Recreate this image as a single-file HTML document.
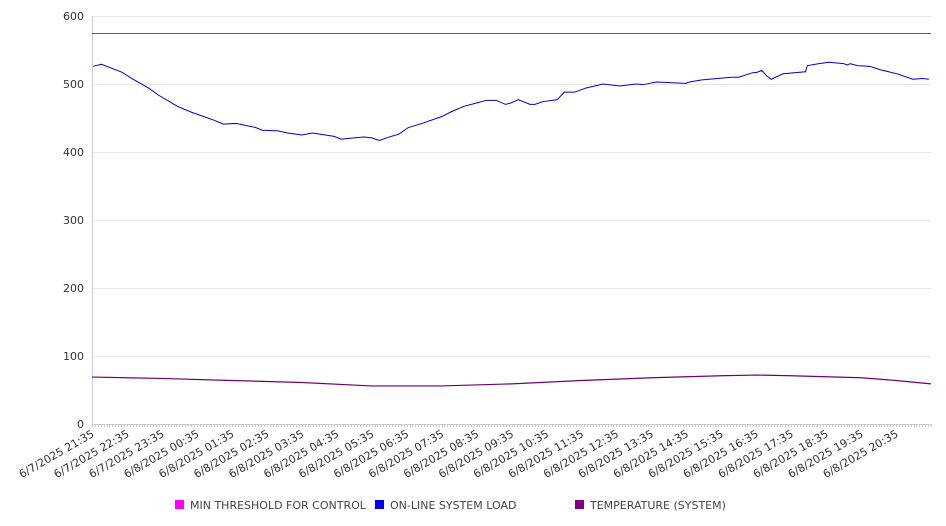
<!DOCTYPE html>
<html><head><meta charset="utf-8"><style>
body{margin:0;background:#fff;}
svg{display:block;font-family:"DejaVu Sans","Liberation Sans",sans-serif;}
</style></head><body>
<svg id="chart" width="946" height="526" viewBox="0 0 946 526" xmlns="http://www.w3.org/2000/svg">
<g id="grid"></g>
<g id="axes"></g>
<g id="series"></g>
<g id="legend"></g>
</svg>
<script>
const yTicks=[0,100,200,300,400,500,600];
const xLabels=["6/7/2025 21:35","6/7/2025 22:35","6/7/2025 23:35","6/8/2025 00:35","6/8/2025 01:35","6/8/2025 02:35","6/8/2025 03:35","6/8/2025 04:35","6/8/2025 05:35","6/8/2025 06:35","6/8/2025 07:35","6/8/2025 08:35","6/8/2025 09:35","6/8/2025 10:35","6/8/2025 11:35","6/8/2025 12:35","6/8/2025 13:35","6/8/2025 14:35","6/8/2025 15:35","6/8/2025 16:35","6/8/2025 17:35","6/8/2025 18:35","6/8/2025 19:35","6/8/2025 20:35"];
const thresholdValue=575;
const loadHours=[0.03,0.27,0.87,1.14,1.62,1.89,2.45,2.82,3.48,3.76,4.12,4.68,4.87,5.32,5.59,6.01,6.30,6.93,7.12,7.77,7.99,8.22,8.49,8.77,9.05,9.44,10.00,10.27,10.63,11.00,11.28,11.56,11.83,11.98,12.19,12.53,12.67,12.89,13.31,13.51,13.81,14.12,14.62,15.10,15.56,15.76,16.15,16.99,17.09,17.45,18.29,18.49,18.93,19.01,19.16,19.30,19.43,19.77,20.41,20.46,20.80,21.08,21.50,21.61,21.69,21.89,22.25,22.55,23.03,23.48,23.75,23.94];
const loadValues=[526,529,517,508,494,484,467,459,447,441,442,436,432,431,428,425,428,423,419,422,421,417,422,426,436,442,452,459,467,472,476,476,470,472,477,470,470,474,477,488,488,494,500,497,500,499,503,501,503,506,510,510,517,517,520,512,507,515,518,527,530,532,530,528,530,527,526,521,515,507,508,507];
const tempHours=[0,2,4,6,8,10,12,14,16,18,19,20,22,23,24];
const tempValues=[69,67,64,61,56,56,59,64,68,71,72,71,68,64,59];

const X0=92,X1=931,Y0=424,Y1=16,HOURS=24;
const xs=h=>X0+(X1-X0)*h/HOURS;
const ys=v=>Y0-(Y0-Y1)*v/600;
const NS="http://www.w3.org/2000/svg";
function mk(tag,attrs,parent){const e=document.createElementNS(NS,tag);for(const k in attrs)e.setAttribute(k,attrs[k]);parent.appendChild(e);return e;}
const grid=document.getElementById('grid'),axes=document.getElementById('axes'),series=document.getElementById('series'),legend=document.getElementById('legend');
yTicks.forEach(v=>{
  if(v>0){const l=mk('line',{x1:X0,x2:X1,y1:ys(v)+0.5,y2:ys(v)+0.5,stroke:'#e8e8e8','stroke-width':1},grid);
  
  }
  const t=mk('text',{x:84,y:ys(v)+4,'text-anchor':'end','font-size':11,fill:'#333'},axes);
  t.textContent=v;
  
  
});
const ya=mk('line',{x1:X0+0.5,x2:X0+0.5,y1:Y1,y2:Y0,stroke:'#ccc'},axes);


const xa=mk('line',{x1:X0,x2:X1,y1:Y0+0.5,y2:Y0+0.5,stroke:'#ccc'},axes);


let d='';for(let i=0;i<=HOURS*12;i++){const x=Math.round(xs(i/12))+0.5;d+='M'+x+' '+Y0+'v3';}
const tk=mk('path',{d:d,stroke:'#ccc','stroke-width':1},axes);


xLabels.forEach((s,i)=>{
  const x=xs(i)+3,y=Y0+12;
  const t=mk('text',{x:x,y:y,'text-anchor':'end','font-size':11,fill:'#333',transform:'rotate(-30 '+x+' '+y+')'},axes);
  t.textContent=s;
  
  
});
const th=mk('line',{x1:X0,x2:X1,y1:ys(thresholdValue)+0.5,y2:ys(thresholdValue)+0.5,stroke:'#e000e0','stroke-width':1},series);


const lp=mk('polyline',{points:loadHours.map((h,i)=>xs(h)+','+ys(loadValues[i])).join(' '),fill:'none',stroke:'#0000d8','stroke-width':1},series);


const tp=mk('polyline',{points:tempHours.map((h,i)=>xs(h)+','+ys(tempValues[i])).join(' '),fill:'none',stroke:'#700070','stroke-width':1.2},series);


const leg=[["MIN THRESHOLD FOR CONTROL","#ff00ff",175],["ON-LINE SYSTEM LOAD","#0000ff",375],["TEMPERATURE (SYSTEM)","#800080",575]];
leg.forEach(l=>{
  const g=mk('g',{},legend);
  
  
  mk('rect',{x:l[2],y:500,width:9,height:9,fill:l[1]},g);
  const t=mk('text',{x:l[2]+15,y:509,'font-size':11,fill:'#444'},g);
  t.textContent=l[0];
});
</script>
</body></html>
